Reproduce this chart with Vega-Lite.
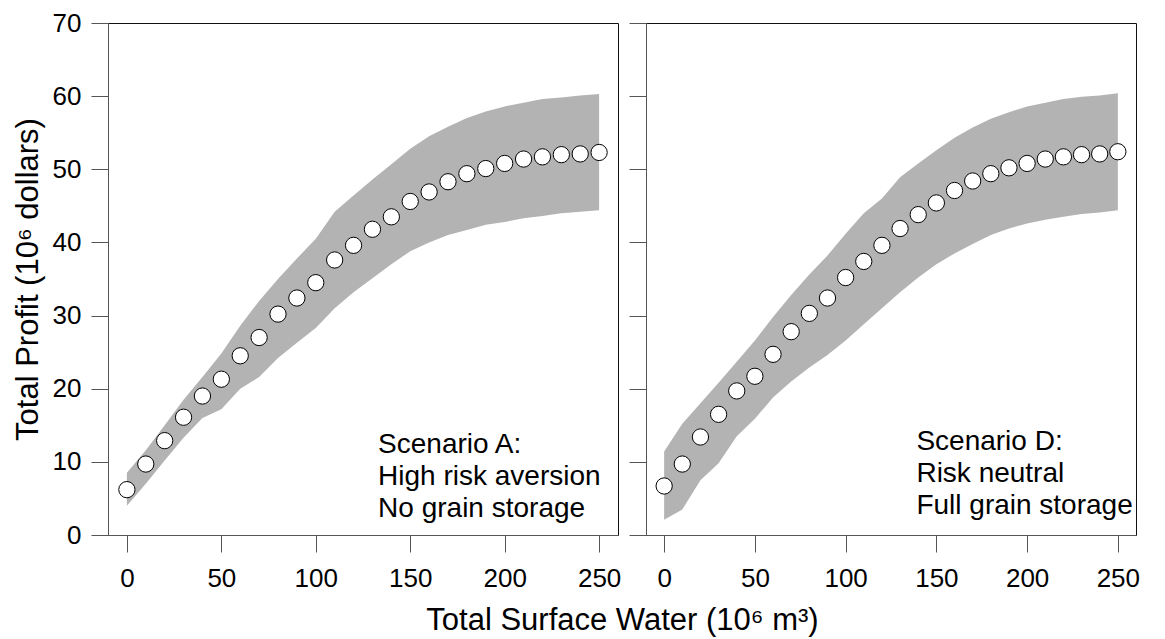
{
  "$schema": "https://vega.github.io/schema/vega-lite/v6.json",
  "background": "white",
  "padding": {"left": 11, "top": 9, "right": 5, "bottom": 5},
  "datasets": {
    "profit": [
      {"scenario": "A", "water": 0, "profit": 6.2, "low": 4.0, "high": 8.5},
      {"scenario": "A", "water": 10, "profit": 9.7, "low": 7.0, "high": 11.6},
      {"scenario": "A", "water": 20, "profit": 12.9, "low": 10.2, "high": 15.0},
      {"scenario": "A", "water": 30, "profit": 16.1, "low": 13.3, "high": 18.5},
      {"scenario": "A", "water": 40, "profit": 19.0, "low": 16.0, "high": 21.6},
      {"scenario": "A", "water": 50, "profit": 21.3, "low": 17.2, "high": 24.8},
      {"scenario": "A", "water": 60, "profit": 24.5, "low": 20.0, "high": 28.6},
      {"scenario": "A", "water": 70, "profit": 27.0, "low": 21.6, "high": 32.0},
      {"scenario": "A", "water": 80, "profit": 30.2, "low": 24.2, "high": 35.0},
      {"scenario": "A", "water": 90, "profit": 32.4, "low": 26.3, "high": 37.8},
      {"scenario": "A", "water": 100, "profit": 34.5, "low": 28.3, "high": 40.5},
      {"scenario": "A", "water": 110, "profit": 37.6, "low": 31.0, "high": 44.2},
      {"scenario": "A", "water": 120, "profit": 39.6, "low": 33.2, "high": 46.4},
      {"scenario": "A", "water": 130, "profit": 41.8, "low": 35.1, "high": 48.6},
      {"scenario": "A", "water": 140, "profit": 43.5, "low": 37.0, "high": 50.7},
      {"scenario": "A", "water": 150, "profit": 45.6, "low": 38.8, "high": 52.8},
      {"scenario": "A", "water": 160, "profit": 46.9, "low": 40.0, "high": 54.5},
      {"scenario": "A", "water": 170, "profit": 48.3, "low": 41.0, "high": 55.8},
      {"scenario": "A", "water": 180, "profit": 49.4, "low": 41.7, "high": 57.0},
      {"scenario": "A", "water": 190, "profit": 50.1, "low": 42.4, "high": 57.9},
      {"scenario": "A", "water": 200, "profit": 50.8, "low": 42.8, "high": 58.6},
      {"scenario": "A", "water": 210, "profit": 51.4, "low": 43.3, "high": 59.1},
      {"scenario": "A", "water": 220, "profit": 51.7, "low": 43.6, "high": 59.6},
      {"scenario": "A", "water": 230, "profit": 52.0, "low": 44.0, "high": 59.8},
      {"scenario": "A", "water": 240, "profit": 52.1, "low": 44.2, "high": 60.1},
      {"scenario": "A", "water": 250, "profit": 52.3, "low": 44.4, "high": 60.3},
      {"scenario": "D", "water": 0, "profit": 6.7, "low": 2.1, "high": 11.4},
      {"scenario": "D", "water": 10, "profit": 9.7, "low": 3.5, "high": 15.2},
      {"scenario": "D", "water": 20, "profit": 13.4, "low": 7.5, "high": 18.0},
      {"scenario": "D", "water": 30, "profit": 16.5, "low": 9.8, "high": 20.8},
      {"scenario": "D", "water": 40, "profit": 19.7, "low": 13.5, "high": 23.7},
      {"scenario": "D", "water": 50, "profit": 21.7, "low": 15.9, "high": 26.6},
      {"scenario": "D", "water": 60, "profit": 24.7, "low": 18.8, "high": 29.8},
      {"scenario": "D", "water": 70, "profit": 27.8, "low": 21.0, "high": 32.8},
      {"scenario": "D", "water": 80, "profit": 30.3, "low": 22.9, "high": 35.6},
      {"scenario": "D", "water": 90, "profit": 32.4, "low": 24.6, "high": 38.2},
      {"scenario": "D", "water": 100, "profit": 35.2, "low": 26.6, "high": 41.2},
      {"scenario": "D", "water": 110, "profit": 37.4, "low": 28.8, "high": 44.0},
      {"scenario": "D", "water": 120, "profit": 39.6, "low": 31.0, "high": 46.0},
      {"scenario": "D", "water": 130, "profit": 41.9, "low": 33.2, "high": 48.9},
      {"scenario": "D", "water": 140, "profit": 43.8, "low": 35.2, "high": 50.8},
      {"scenario": "D", "water": 150, "profit": 45.4, "low": 37.0, "high": 52.6},
      {"scenario": "D", "water": 160, "profit": 47.1, "low": 38.5, "high": 54.3},
      {"scenario": "D", "water": 170, "profit": 48.4, "low": 39.8, "high": 55.7},
      {"scenario": "D", "water": 180, "profit": 49.4, "low": 41.0, "high": 56.9},
      {"scenario": "D", "water": 190, "profit": 50.2, "low": 41.9, "high": 57.8},
      {"scenario": "D", "water": 200, "profit": 50.8, "low": 42.6, "high": 58.6},
      {"scenario": "D", "water": 210, "profit": 51.4, "low": 43.1, "high": 59.1},
      {"scenario": "D", "water": 220, "profit": 51.7, "low": 43.5, "high": 59.6},
      {"scenario": "D", "water": 230, "profit": 52.0, "low": 43.9, "high": 59.9},
      {"scenario": "D", "water": 240, "profit": 52.1, "low": 44.1, "high": 60.1},
      {"scenario": "D", "water": 250, "profit": 52.4, "low": 44.4, "high": 60.4}
    ],
    "notes": [
      {"scenario": "A", "note": "Scenario A:\nHigh risk aversion\nNo grain storage"},
      {"scenario": "D", "note": "Scenario D:\nRisk neutral\nFull grain storage"}
    ]
  },
  "bounds": "flush",
  "spacing": 28,
  "hconcat": [
    {
      "width": 510,
      "height": 512,
      "layer": [
        {
          "data": {"name": "profit"},
          "transform": [{"filter": "datum.scenario === 'A'"}],
          "mark": {"type": "area", "color": "#b3b3b3", "opacity": 1},
          "encoding": {
            "x": {
              "field": "water", "type": "quantitative",
              "scale": {"domain": [-10, 260], "nice": false, "zero": false},
              "axis": {
                "values": [0, 50, 100, 150, 200, 250],
                "title": "Total Surface Water (10⁶ m³)",
                "titleX": 514
              }
            },
            "y": {
              "field": "low", "type": "quantitative",
              "scale": {"domain": [0, 70], "nice": false},
              "axis": {
                "values": [0, 10, 20, 30, 40, 50, 60, 70],
                "title": "Total Profit (10⁶ dollars)"
              }
            },
            "y2": {"field": "high"}
          }
        },
        {
          "data": {"name": "profit"},
          "transform": [{"filter": "datum.scenario === 'A'"}],
          "mark": {"type": "point", "shape": "circle", "filled": true, "fill": "white", "stroke": "black", "strokeWidth": 1, "size": 265, "opacity": 1},
          "encoding": {
            "x": {"field": "water", "type": "quantitative"},
            "y": {"field": "profit", "type": "quantitative"}
          }
        },
        {
          "data": {"name": "notes"},
          "transform": [{"filter": "datum.scenario === 'A'"}],
          "mark": {"type": "text", "align": "left", "baseline": "alphabetic", "lineBreak": "\n", "lineHeight": 32, "fontSize": 28, "color": "black"},
          "encoding": {
            "x": {"datum": 133},
            "y": {"datum": 11.2},
            "text": {"field": "note"}
          }
        }
      ]
    },
    {
      "width": 490,
      "height": 512,
      "layer": [
        {
          "data": {"name": "profit"},
          "transform": [{"filter": "datum.scenario === 'D'"}],
          "mark": {"type": "area", "color": "#b3b3b3", "opacity": 1},
          "encoding": {
            "x": {
              "field": "water", "type": "quantitative",
              "scale": {"domain": [-10, 260], "nice": false, "zero": false},
              "axis": {"values": [0, 50, 100, 150, 200, 250], "title": null}
            },
            "y": {
              "field": "low", "type": "quantitative",
              "scale": {"domain": [0, 70], "nice": false},
              "axis": {"values": [0, 10, 20, 30, 40, 50, 60, 70], "labels": false, "title": null}
            },
            "y2": {"field": "high"}
          }
        },
        {
          "data": {"name": "profit"},
          "transform": [{"filter": "datum.scenario === 'D'"}],
          "mark": {"type": "point", "shape": "circle", "filled": true, "fill": "white", "stroke": "black", "strokeWidth": 1, "size": 265, "opacity": 1},
          "encoding": {
            "x": {"field": "water", "type": "quantitative"},
            "y": {"field": "profit", "type": "quantitative"}
          }
        },
        {
          "data": {"name": "notes"},
          "transform": [{"filter": "datum.scenario === 'D'"}],
          "mark": {"type": "text", "align": "left", "baseline": "alphabetic", "lineBreak": "\n", "lineHeight": 32, "fontSize": 28, "color": "black"},
          "encoding": {
            "x": {"datum": 139},
            "y": {"datum": 11.6},
            "text": {"field": "note"}
          }
        }
      ]
    }
  ],
  "config": {
    "font": "Liberation Sans",
    "view": {"stroke": "#111", "strokeWidth": 1},
    "axis": {
      "grid": false,
      "domainColor": "#555",
      "domainWidth": 1,
      "tickColor": "#555",
      "tickWidth": 1,
      "tickSize": 17,
      "labelFont": "Liberation Sans",
      "labelFontSize": 26,
      "labelColor": "black",
      "labelPadding": 10,
      "titleFont": "Liberation Sans",
      "titleFontSize": 31,
      "titleFontWeight": "normal",
      "titleColor": "black"
    },
    "axisX": {"labelPadding": 13, "titlePadding": 14},
    "axisY": {"titlePadding": 8}
  }
}
